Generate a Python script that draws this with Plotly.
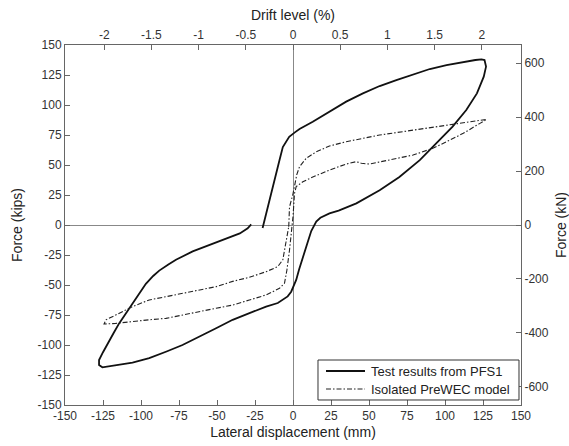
import plotly.graph_objects as go

# ---------------- data ----------------
test_disp = [-20, -17.7, -13.3, -8.9, -6.7, -4.5, -2.5, 1, 4.3, 13, 24, 35, 46, 57, 68, 79, 90, 101, 112,
             120, 124, 126, 127, 125.5, 121, 114, 105, 94.4, 83.4, 70, 57, 41.7, 30, 24, 18, 15.3, 12, 9.5,
             6.5, 4, 2.1, 0, -1.2, -3.5, -6.7, -10, -17.7, -28.7, -39.7, -50.6, -61.6, -72.7, -83.6, -94.6,
             -105.6, -116.6, -123, -125.4, -127.6, -127.6, -125, -122, -118, -114.4, -110, -105.6, -101,
             -96.8, -92, -88, -82, -77, -66, -55, -44, -35, -29.8, -27.5]
test_force = [-2.5, 9.7, 32, 54, 65, 70, 73.5, 77, 80, 86, 94.4, 102.8, 109.7, 115.8, 120.8, 125.5, 130, 133.3,
              136, 137.5, 138, 137.5, 132, 123.6, 109.7, 95.8, 82, 68, 54, 40, 29, 18, 12, 9.7, 6, 2.8, -5,
              -15, -26, -37, -45.8, -52, -55.6, -59.5, -62.5, -65, -68, -73.6, -79, -86, -93, -100, -105.6,
              -111, -114.7, -116.7, -118, -118.6, -116.7, -112.5, -106, -98.6, -90, -82, -74, -66, -57, -49,
              -42.5, -38, -33, -29, -22, -16.7, -12, -7, -2.8, 0.5]

model_disp = [-2.8, -2.3, 0, 1, 2.5, 4.3, 8.7, 15.3, 24, 35, 46, 57, 68, 79, 90, 101, 112, 123, 127.4,
              123, 112, 101, 92, 79, 68, 57, 50.4, 45, 41.7, 35, 24, 13, 6.5, 2.1, 1, 0, -0.5, -1.2, -2.3,
              -4, -5.6, -8.9, -17.7, -28.7, -39.7, -50.6, -61.6, -72.7, -83.6, -94.6, -105.6, -116.6, -124.3,
              -123, -116.6, -105.6, -94.6, -83.6, -72.7, -61.6, -50.6, -39.7, -28.7, -17.7, -10, -6.7, -4.5, -2.8]
model_force = [-1.4, 15, 26, 32, 42, 48.6, 55.6, 61, 65.8, 69.4, 72.2, 75, 77, 79, 81.4, 83.3, 85, 87.5, 88,
               84.7, 76.4, 69.4, 63.9, 58.3, 55.6, 52.8, 50.8, 51.4, 52.8, 50.8, 45.8, 40, 36, 32, 26.4, 7, 0,
               -10, -21, -37.5, -48.6, -52.8, -58.3, -62.5, -66.7, -69.4, -72.2, -75, -77.8, -79, -80.6, -82,
               -82.5, -79, -75, -68, -62.5, -59.7, -57, -54, -51.4, -47, -43.6, -38.9, -34.7, -29, -15, -1.4]

series_names = ["Test results from PFS1", "Isolated PreWEC model"]

x_ticks = [-150, -125, -100, -75, -50, -25, 0, 25, 50, 75, 100, 125, 150]
y_ticks = [-150, -125, -100, -75, -50, -25, 0, 25, 50, 75, 100, 125, 150]
drift_ticks = [-2, -1.5, -1, -0.5, 0, 0.5, 1, 1.5, 2]
kn_ticks = [-600, -400, -200, 0, 200, 400, 600]

MM_PER_PERCENT = 62.1
KN_PER_KIP = 4.448

FONT = "Arial, Liberation Sans, sans-serif"
TICKCOL = "#333333"
FRAME = "#666666"
SOLID = dict(color="#111111", width=1.8)
DASHDOT = dict(color="#222222", width=1.1, dash="5px,2px,1.5px,2px")

fig = go.Figure()
fig.add_trace(go.Scatter(x=test_disp, y=test_force, mode="lines", name=series_names[0], line=SOLID))
fig.add_trace(go.Scatter(x=model_disp, y=model_force, mode="lines", name=series_names[1], line=DASHDOT))
# secondary axes carrier (invisible)
fig.add_trace(go.Scatter(x=[d / MM_PER_PERCENT for d in test_disp],
                         y=[f * KN_PER_KIP for f in test_force], mode="lines",
                         line=dict(width=0, color="rgba(0,0,0,0)"), xaxis="x2", yaxis="y2",
                         showlegend=False, hoverinfo="skip"))

axis_common = dict(showgrid=False, ticks="inside", ticklen=5, tickcolor=FRAME, showline=True,
                   linecolor=FRAME, linewidth=1, automargin=False,
                   tickfont=dict(family=FONT, size=12, color=TICKCOL))

# manual legend (inside lower-right corner)
fig.add_shape(type="rect", xref="paper", yref="paper", x0=0.5548, x1=0.9956, y0=0.0139, y1=0.125,
              line=dict(color="#333333", width=1), fillcolor="white", layer="above")
for yy, style, name in [(0.0944, SOLID, series_names[0]), (0.0444, DASHDOT, series_names[1])]:
    fig.add_shape(type="line", xref="paper", yref="paper", x0=0.5724, x1=0.6579, y0=yy, y1=yy,
                  line=style, layer="above")
    fig.add_annotation(xref="paper", yref="paper", x=0.6667, y=yy, text=name, showarrow=False,
                       xanchor="left", yanchor="middle",
                       font=dict(family=FONT, size=13, color="#222222"))

fig.update_layout(
    width=569, height=446,
    margin=dict(l=65, r=48, t=45, b=41),
    paper_bgcolor="white", plot_bgcolor="white",
    font=dict(family=FONT, size=12, color="#222222"),
    showlegend=False,
    xaxis=dict(range=[-150, 150], tickvals=x_ticks, ticktext=[str(v) for v in x_ticks],
               zeroline=True, zerolinecolor="#888888", zerolinewidth=1,
               title=dict(text="Lateral displacement (mm)", font=dict(size=14, color="#222222"), standoff=4),
               **axis_common),
    xaxis2=dict(range=[-150 / MM_PER_PERCENT, 150 / MM_PER_PERCENT], overlaying="x", side="top", anchor="y",
                tickvals=drift_ticks, ticktext=[("%g" % v) for v in drift_ticks], zeroline=False,
                title=dict(text="Drift level (%)", font=dict(size=14, color="#222222"), standoff=4),
                **axis_common),
    yaxis=dict(range=[-150, 150], tickvals=y_ticks, ticktext=[str(v) for v in y_ticks],
               zeroline=True, zerolinecolor="#888888", zerolinewidth=1,
               title=dict(text="Force (kips)", font=dict(size=14, color="#222222"), standoff=11),
               **axis_common),
    yaxis2=dict(range=[-150 * KN_PER_KIP, 150 * KN_PER_KIP], overlaying="y", side="right", anchor="x",
                tickvals=kn_ticks, ticktext=[str(v) for v in kn_ticks], zeroline=False,
                title=dict(text="Force (kN)", font=dict(size=14, color="#222222"), standoff=8),
                **axis_common),
)

fig.write_html("out.html")
